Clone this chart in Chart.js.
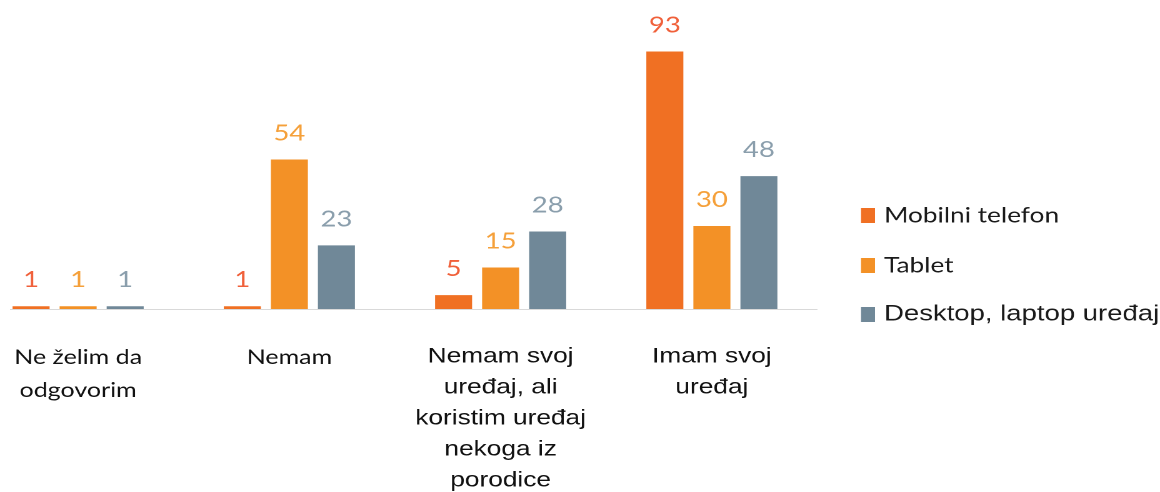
<!DOCTYPE html>
<html>
<head>
<meta charset="utf-8">
<script src="https://cdn.jsdelivr.net/npm/chart.js@4.4.1/dist/chart.umd.min.js"></script>
<style>
  html, body { margin: 0; padding: 0; background: #fff; overflow: hidden; }
  body { width: 1160px; height: 492px; position: relative; }
  /* the source picture is stretched sideways, so the chart is too */
  #wrap { position: absolute; left: -40px; top: 0; width: 960px; height: 492px; transform: scaleX(1.25); transform-origin: 0 0; }
</style>
</head>
<body>
<div id="wrap"><canvas id="chart"></canvas></div>
<script>
const categories = [
    ['Ne želim da', 'odgovorim'],
    ['Nemam'],
    ['Nemam svoj', 'uređaj, ali', 'koristim uređaj', 'nekoga iz', 'porodice'],
    ['Imam svoj', 'uređaj']
];
const seriesNames = ['Mobilni telefon', 'Tablet', 'Desktop, laptop uređaj'];
const mobilni = [1, 1, 5, 93];
const tablet = [1, 54, 15, 30];
const desktop = [1, 23, 28, 48];

const barColors = ['#F07023', '#F39126', '#708898'];
const labelColors = ['#F0603A', '#F5A03A', '#8A9EAC'];
const calibri = 'Lato, "Noto Sans", sans-serif';
const arial = '"Liberation Sans", Arial, sans-serif';

// value above each bar
const valueLabels = {
    id: 'valueLabels',
    afterDatasetsDraw(chart) {
        const ctx = chart.ctx;
        ctx.save();
        ctx.font = '22px ' + calibri;
        ctx.textAlign = 'center';
        ctx.textBaseline = 'alphabetic';
        chart.data.datasets.forEach((ds, i) => {
            chart.getDatasetMeta(i).data.forEach((bar, j) => {
                ctx.fillStyle = labelColors[i];
                ctx.fillText(ds.data[j], bar.x, bar.y - 19);
            });
        });
        ctx.restore();
    }
};

// thin gray baseline
const baseLine = {
    id: 'baseLine',
    beforeDatasetsDraw(chart) {
        const ctx = chart.ctx;
        const y = Math.round(chart.scales.y.getPixelForValue(0)) + 0.5;
        ctx.save();
        ctx.strokeStyle = '#D9D9D9';
        ctx.lineWidth = 1;
        ctx.beginPath();
        ctx.moveTo(40, y);
        ctx.lineTo(chart.chartArea.right, y);
        ctx.stroke();
        ctx.restore();
    }
};

// legend on the right, each entry in its own font like the source
const legendFonts = ['21px ' + calibri, '21px ' + calibri, '22px ' + arial];
const legendRows = [215.5, 265.5, 314.5];
const sideLegend = {
    id: 'sideLegend',
    afterDraw(chart) {
        const ctx = chart.ctx;
        ctx.save();
        ctx.textBaseline = 'middle';
        ctx.textAlign = 'left';
        chart.data.datasets.forEach((ds, i) => {
            const y = legendRows[i];
            ctx.fillStyle = ds.backgroundColor;
            ctx.fillRect(720.8, y - 7.5, 11.2, 15);
            ctx.fillStyle = '#1A1A1A';
            ctx.font = legendFonts[i];
            ctx.fillText(ds.label, 739.2, y);
        });
        ctx.restore();
    }
};

const seriesValues = [mobilni, tablet, desktop];

new Chart(document.getElementById('chart'), {
    type: 'bar',
    data: {
        labels: categories,
        datasets: seriesValues.map((values, i) => ({
            label: seriesNames[i],
            data: values,
            backgroundColor: barColors[i],
            borderWidth: 0,
            categoryPercentage: 0.668,
            barPercentage: 0.787
        }))
    },
    options: {
        responsive: true,
        maintainAspectRatio: false,
        animation: false,
        devicePixelRatio: 2,
        layout: { padding: { left: 10, right: 274, top: 10, bottom: 0 } },
        plugins: {
            legend: { display: false },
            tooltip: { enabled: false }
        },
        scales: {
            x: {
                grid: { display: false, drawTicks: false },
                border: { display: false },
                ticks: {
                    autoSkip: false,
                    maxRotation: 0,
                    padding: 32,
                    color: '#111',
                    font: function(c) {
                        if (c.index < 2) {
                            return { family: calibri, size: 20, lineHeight: '33px' };
                        }
                        return { family: arial, size: 21, lineHeight: '31px' };
                    }
                },
                afterFit: function(scale) {
                    scale.height = 183;
                }
            },
            y: {
                display: false,
                min: 0,
                max: 108
            }
        }
    },
    plugins: [baseLine, valueLabels, sideLegend]
});
</script>
</body>
</html>
